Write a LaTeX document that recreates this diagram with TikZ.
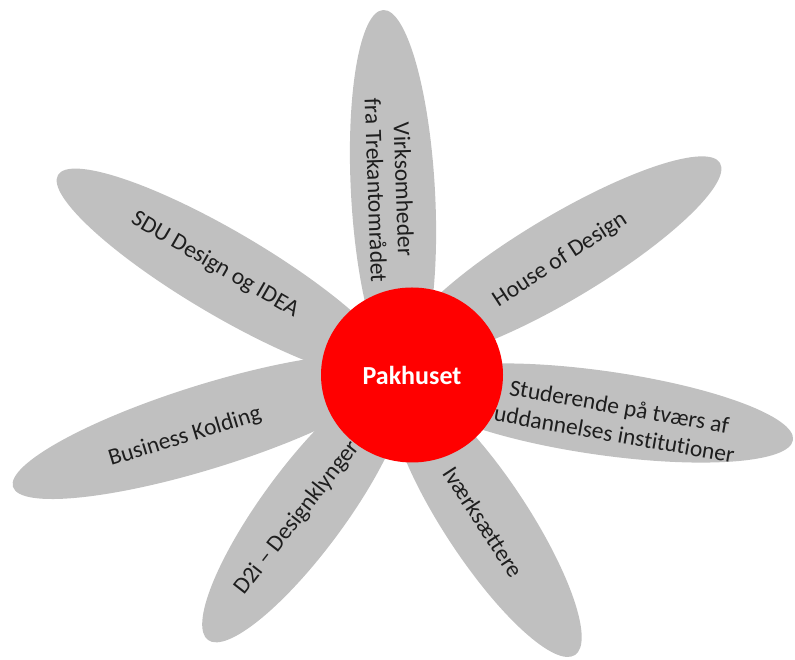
\documentclass[tikz,border=0pt]{standalone}
\usepackage{fontspec}
\setmainfont{Carlito}[Ligatures={NoCommon}]
\usetikzlibrary{shapes.geometric}
\definecolor{petalgray}{RGB}{192,192,192}
\definecolor{hubred}{RGB}{255,0,0}
\definecolor{labeltext}{RGB}{30,30,30}
\tikzset{
  petal/.style={ellipse, fill=petalgray, draw=none, inner sep=0pt, minimum height=84},
  plabel/.style={font=\fontsize{23.5}{28}\selectfont, text=labeltext, align=center, inner sep=0pt},
  hub/.style={ellipse, fill=hubred, draw=none, minimum width=182, minimum height=175, inner sep=0pt,
    font=\fontsize{26}{30}\selectfont\bfseries, text=white}
}
\begin{document}
\begin{tikzpicture}[x=1pt,y=1pt]
\useasboundingbox (0,0) rectangle (795,660);
% petals
\node[petal, rotate=93.1,  minimum width=365.5] (p1) at (393,467.5) {};
\node[petal, rotate=30.86, minimum width=370.4] (p2) at (561,402) {};
\node[petal, rotate=-8.07, minimum width=384.8] (p3) at (602.5,247) {};
\node[petal, rotate=-56.6, minimum width=323.4] (p4) at (486,140) {};
\node[petal, rotate=53.66, minimum width=324.0] (p5) at (304,150.5) {};
\node[petal, rotate=17.3,  minimum width=406.4] (p6) at (207,233.5) {};
\node[petal, rotate=-30.5, minimum width=390.0] (p7) at (226,386) {};
% labels
\node[plabel, rotate=-88] (t1) at (390,470) {Virksomheder\\fra Trekantområdet};
\node[plabel, rotate=33]  (t2) at (560,400) {House of Design};
\node[plabel, rotate=-10] (t3) at (617,240) {Studerende på tværs af\\uddannelses institutioner};
\node[plabel, rotate=-57] (t4) at (483,138) {Iværksættere};
\node[plabel, rotate=52]  (t5) at (297,142) {D2i – Designklynger};
\node[plabel, rotate=17]  (t6) at (185,223) {Business Kolding};
\node[plabel, rotate=-30] (t7) at (215,395) {SDU Design og IDEA};
% hub
\node[hub] (hub) at (412,285) {Pakhuset};
\end{tikzpicture}
\end{document}
